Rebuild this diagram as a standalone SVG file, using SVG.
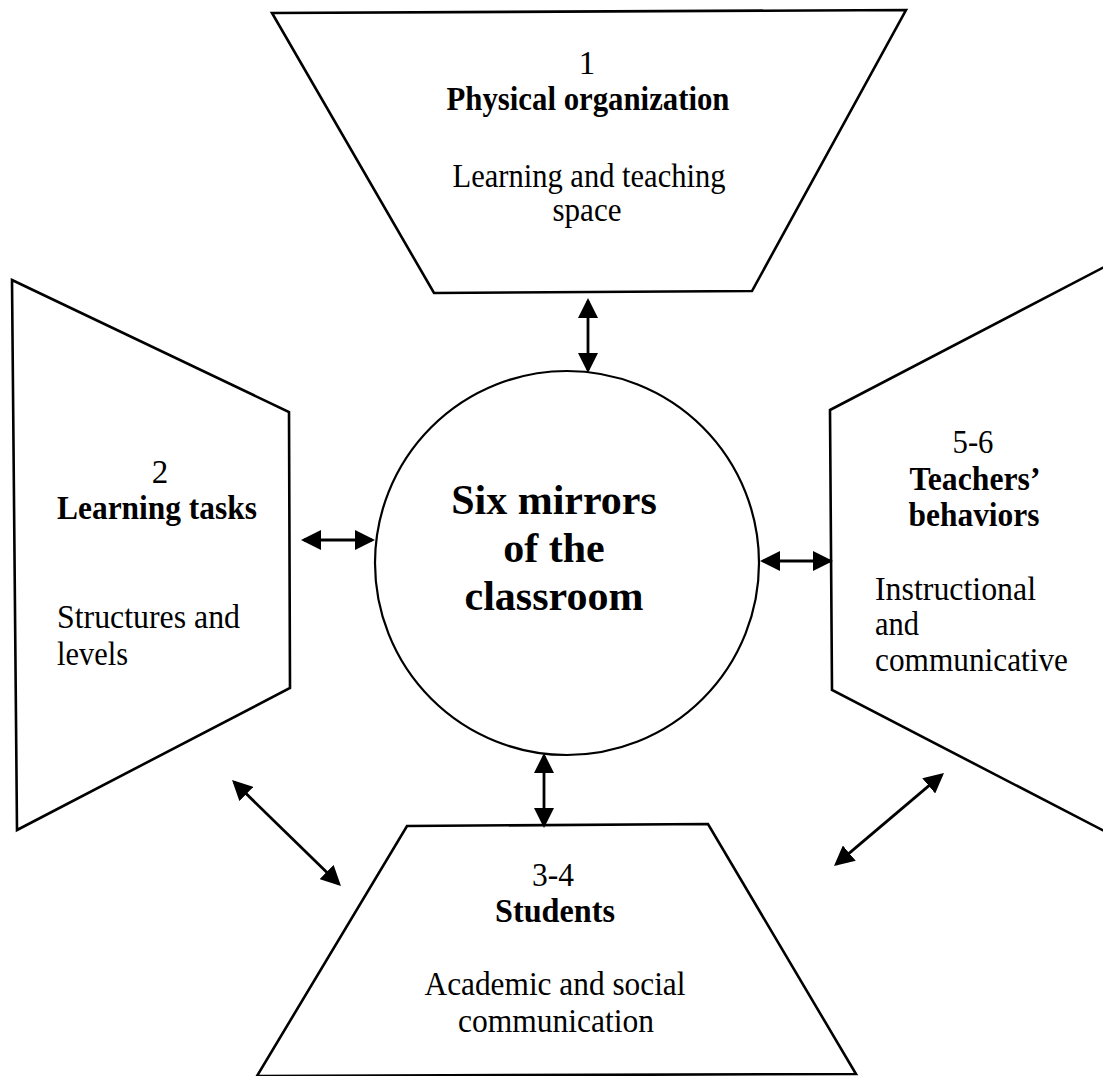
<svg xmlns="http://www.w3.org/2000/svg" width="1103" height="1076" viewBox="0 0 1103 1076">
<style>
.shape{fill:#fff;stroke:#000;stroke-width:2.6;stroke-linejoin:miter}
.circ{fill:#fff;stroke:#000;stroke-width:2.2}
.t{font-family:"Liberation Serif","Times New Roman",serif;font-size:33px;fill:#000}
.b{font-weight:bold}
.c{font-family:"Liberation Serif","Times New Roman",serif;font-size:42px;font-weight:bold;fill:#000}
.m{text-anchor:middle}
.arr{stroke:#000;stroke-width:2.8;fill:none;marker-start:url(#ah);marker-end:url(#ah)}
</style>
<defs>
<marker id="ah" viewBox="0 0 20 20" refX="17" refY="10" markerWidth="20" markerHeight="20" markerUnits="userSpaceOnUse" orient="auto-start-reverse">
<path d="M0,0 L20,10 L0,20 z" fill="#000"/>
</marker>
</defs>
<rect width="1103" height="1076" fill="#fff"/>
<g id="node-physical">
<polygon class="shape" points="272,13 906,10 752,291 434,293"/>
<text class="t m" x="587" y="74">1</text>
<text class="t b m" x="588" y="110" textLength="283" lengthAdjust="spacingAndGlyphs">Physical organization</text>
<text class="t m" x="589" y="187" textLength="273" lengthAdjust="spacingAndGlyphs">Learning and teaching</text>
<text class="t m" x="587" y="221" textLength="69" lengthAdjust="spacingAndGlyphs">space</text>
</g>
<g id="node-tasks">
<polygon class="shape" points="12,280 289,412 290,688 17,830"/>
<text class="t m" x="160" y="483">2</text>
<text class="t b m" x="157" y="519" textLength="200" lengthAdjust="spacingAndGlyphs">Learning tasks</text>
<text class="t" x="57" y="628" textLength="183" lengthAdjust="spacingAndGlyphs">Structures and</text>
<text class="t" x="57" y="665" textLength="71" lengthAdjust="spacingAndGlyphs">levels</text>
</g>
<g id="node-teachers">
<polygon class="shape" points="830,410 1110,264 1110,834 832,690"/>
<text class="t m" x="973" y="453" textLength="41" lengthAdjust="spacingAndGlyphs">5-6</text>
<text class="t b m" x="975" y="490" textLength="131" lengthAdjust="spacingAndGlyphs">Teachers’</text>
<text class="t b m" x="974" y="526" textLength="131" lengthAdjust="spacingAndGlyphs">behaviors</text>
<text class="t" x="875" y="600" textLength="161" lengthAdjust="spacingAndGlyphs">Instructional</text>
<text class="t" x="875" y="635" textLength="44" lengthAdjust="spacingAndGlyphs">and</text>
<text class="t" x="875" y="671" textLength="193" lengthAdjust="spacingAndGlyphs">communicative</text>
</g>
<g id="node-students">
<polygon class="shape" points="407,826 708,824 856,1074 257,1076"/>
<text class="t m" x="553" y="886" textLength="42" lengthAdjust="spacingAndGlyphs">3-4</text>
<text class="t b m" x="555" y="922" textLength="120" lengthAdjust="spacingAndGlyphs">Students</text>
<text class="t m" x="555" y="995" textLength="261" lengthAdjust="spacingAndGlyphs">Academic and social</text>
<text class="t m" x="556" y="1032" textLength="196" lengthAdjust="spacingAndGlyphs">communication</text>
</g>
<g id="node-center">
<circle class="circ" cx="567" cy="563" r="192"/>
<text class="c m" x="554" y="514">Six mirrors</text>
<text class="c m" x="554" y="562">of the</text>
<text class="c m" x="554" y="610">classroom</text>
</g>
<g id="connectors">
<line class="arr" x1="588" y1="301" x2="588" y2="370"/>
<line class="arr" x1="304" y1="540" x2="372" y2="540"/>
<line class="arr" x1="763" y1="561" x2="830" y2="561"/>
<line class="arr" x1="544" y1="756" x2="544" y2="825"/>
<line class="arr" x1="234.2" y1="782.1" x2="338.8" y2="883.9"/>
<line class="arr" x1="941.7" y1="774.9" x2="836.3" y2="864.1"/>
</g>
</svg>
